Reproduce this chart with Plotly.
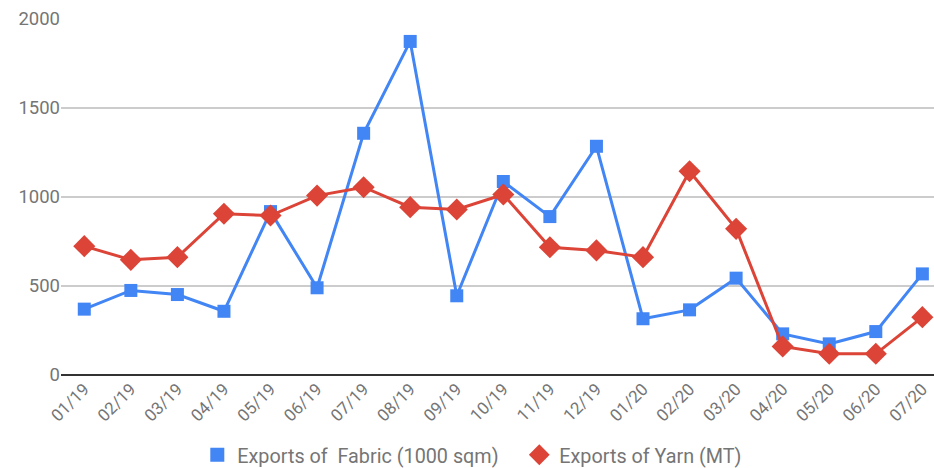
import plotly.graph_objects as go

months = ["01/19", "02/19", "03/19", "04/19", "05/19", "06/19", "07/19", "08/19",
          "09/19", "10/19", "11/19", "12/19", "01/20", "02/20", "03/20", "04/20",
          "05/20", "06/20", "07/20"]
fabric = [370, 475, 452, 358, 918, 490, 1358, 1874, 445, 1087, 890, 1285,
          316, 366, 544, 231, 175, 244, 568]
yarn = [724, 647, 662, 906, 896, 1008, 1055, 943, 930, 1014, 718, 700,
        662, 1145, 821, 160, 119, 119, 325]

series = [
    ("Exports of  Fabric (1000 sqm)", fabric, "#4285F4", "square", 13),
    ("Exports of Yarn (MT)", yarn, "#DB4437", "diamond", 17),
]

fig = go.Figure()
for name, vals, color, symbol, size in series:
    fig.add_trace(go.Scatter(
        x=months, y=vals, name=name, mode="lines+markers",
        line=dict(color=color, width=3),
        marker=dict(symbol=symbol, size=size, color=color),
        showlegend=False, legendgroup=name,
    ))
# legend entries show the marker only
for name, vals, color, symbol, size in series:
    fig.add_trace(go.Scatter(
        x=[None], y=[None], name=name, mode="markers",
        marker=dict(symbol=symbol, size=18 if symbol == "diamond" else 14,
                    color=color),
        legendgroup=name,
    ))

fig.update_layout(
    width=934, height=468,
    margin=dict(l=61, r=0, t=19, b=93, autoexpand=False),
    paper_bgcolor="white", plot_bgcolor="white",
    font=dict(family="Roboto", size=17, color="#757575"),
    showlegend=True,
    legend=dict(orientation="h", x=0.556, xref="container", xanchor="center",
                y=0.028, yref="container", yanchor="middle",
                font=dict(size=19.8, color="#757575"), itemsizing="trace",
                traceorder="normal", entrywidth=277),
    xaxis=dict(range=[-0.5, 18.25], tickangle=-45, showgrid=False, automargin=False,
               showline=False, ticks="", tickfont=dict(size=17)),
    yaxis=dict(range=[0, 2000], tickvals=[0, 500, 1000, 1500, 2000], automargin=False,
               gridcolor="#cccccc", gridwidth=1.5, zeroline=True,
               zerolinecolor="#333333", zerolinewidth=2, ticks="",
               tickfont=dict(size=18.5)),
)

fig.write_html("out.html")
